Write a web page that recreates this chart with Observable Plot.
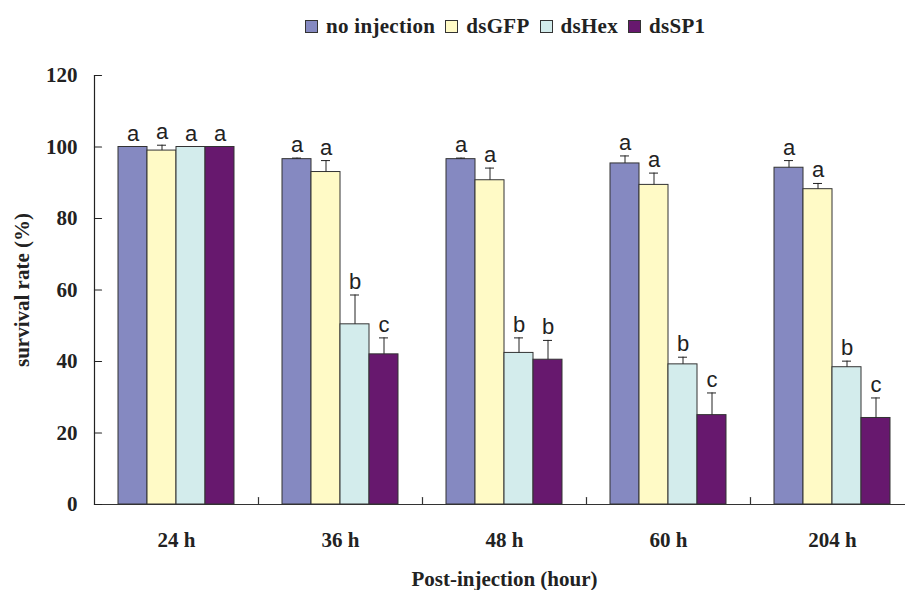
<!DOCTYPE html>
<html>
<head>
<meta charset="utf-8">
<script src="https://cdn.jsdelivr.net/npm/d3@7"></script>
<script src="https://cdn.jsdelivr.net/npm/@observablehq/plot@0.6"></script>
<style>
  html, body { margin: 0; padding: 0; background: #fff; }
  #wrap { width: 905px; height: 590px; overflow: hidden; position: relative; }
  #legend { height: 50px; display: flex; align-items: center; padding-left: 305px; padding-top: 2px; box-sizing: border-box;
            font-family: "Liberation Serif", serif; font-weight: bold; font-size: 21px; color: #222; letter-spacing: 0.3px; }
  .item { display: flex; align-items: center; margin-right: 10px; }
  .sw { width: 13px; height: 13px; border: 1px solid #333; box-sizing: border-box; margin-right: 8px; }
  #chart svg { display: block; }
</style>
</head>
<body>
<div id="wrap">
  <div id="legend"></div>
  <div id="chart"></div>
</div>
<script>
const times = ["24 h", "36 h", "48 h", "60 h", "204 h"];
const series = ["no injection", "dsGFP", "dsHex", "dsSP1"];
const colors = ["#8589C1", "#FFFAC6", "#D3ECEC", "#67186E"];

const noInjection    = [100, 96.6, 96.6, 95.4, 94.2];
const noInjectionErr = [0, 0.3, 0.3, 2.1, 2.0];
const dsGFP          = [99.0, 93.0, 90.7, 89.4, 88.2];
const dsGFPErr       = [1.5, 3.2, 3.4, 3.3, 1.6];
const dsHex          = [100, 50.4, 42.4, 39.2, 38.4];
const dsHexErr       = [0, 8.2, 4.2, 2.0, 1.7];
const dsSP1          = [100, 42.0, 40.5, 25.0, 24.2];
const dsSP1Err       = [0, 4.6, 5.4, 6.2, 5.6];

const lettersNoInjection = ["a", "a", "a", "a", "a"];
const lettersDsGFP       = ["a", "a", "a", "a", "a"];
const lettersDsHex       = ["a", "b", "b", "b", "b"];
const lettersDsSP1       = ["a", "c", "b", "c", "c"];

const yTicks = [0, 20, 40, 60, 80, 100, 120];

const valueSets = [noInjection, dsGFP, dsHex, dsSP1];
const errSets = [noInjectionErr, dsGFPErr, dsHexErr, dsSP1Err];
const letterSets = [lettersNoInjection, lettersDsGFP, lettersDsHex, lettersDsSP1];

const data = [];
times.forEach((t, i) => {
  series.forEach((s, j) => {
    data.push({time: t, series: s, value: valueSets[j][i], err: errSets[j][i], letter: letterSets[j][i]});
  });
});
const barTop = d => d.value + d.err;

// legend
const legend = document.getElementById("legend");
series.forEach((s, j) => {
  const it = document.createElement("div");
  it.className = "item";
  const sw = document.createElement("div");
  sw.className = "sw";
  sw.style.background = colors[j];
  const tx = document.createElement("span");
  tx.textContent = s;
  it.appendChild(sw); it.appendChild(tx);
  legend.appendChild(it);
});

const lineShape = {
  draw(context, l) { context.moveTo(0, 0); context.lineTo(0, -l); }
};

const chart = Plot.plot({
  width: 905,
  height: 540,
  marginTop: 25,
  marginBottom: 86,
  marginLeft: 94,
  marginRight: -9,
  style: {fontFamily: "'Liberation Serif', serif", fontWeight: "bold", fontSize: "21px", color: "#222", background: "transparent"},
  fx: {domain: times, padding: 0, label: null},
  x: {domain: series, paddingInner: 0, paddingOuter: 0.76, axis: null},
  y: {domain: [0, 120], axis: null},
  color: {domain: series, range: colors},
  marks: [
    Plot.barY(data, {fx: "time", x: "series", y: "value", fill: "series", stroke: "#333", strokeWidth: 1}),
    Plot.ruleX(data.filter(d => d.err > 0), {fx: "time", x: "series", y1: "value", y2: barTop, stroke: "#222", strokeWidth: 1}),
    Plot.tickY(data.filter(d => d.err > 0), {fx: "time", x: "series", y: barTop, stroke: "#222", strokeWidth: 1, insetLeft: 10, insetRight: 10}),
    Plot.text(data, {fx: "time", x: "series", y: barTop, text: "letter", lineAnchor: "bottom", dy: -6,
      fontFamily: "'Liberation Sans', Arial, sans-serif", fontWeight: "normal", fontSize: 22, fill: "#222"}),
    Plot.ruleY([0], {stroke: "#333", strokeWidth: 1.2}),
    Plot.vector([0], {y: d => d, frameAnchor: "right", rotate: 0, length: 7, anchor: "start", shape: lineShape, stroke: "#333", strokeWidth: 1.2}),
    Plot.frame({anchor: "left", facetAnchor: "left", stroke: "#222", strokeWidth: 1.2}),
    Plot.vector(yTicks, {y: d => d, frameAnchor: "left", rotate: 90, length: 7, anchor: "start", shape: lineShape, stroke: "#222", strokeWidth: 1.2, facetAnchor: "left"}),
    Plot.axisY(yTicks, {anchor: "left", tickSize: 0, tickPadding: 17, label: "survival rate (%)", labelArrow: "none", labelAnchor: "center", labelOffset: 80,
      fontSize: 21, fontWeight: "bold", fill: "#222", tickFormat: d => d}),
    Plot.axisFx({anchor: "bottom", tickSize: 0, tickPadding: 28, label: "Post-injection (hour)", labelArrow: "none", labelAnchor: "center", labelOffset: 81,
      fontSize: 21, fontWeight: "bold", fill: "#222"})
  ]
});
document.getElementById("chart").appendChild(chart);
</script>
</body>
</html>
